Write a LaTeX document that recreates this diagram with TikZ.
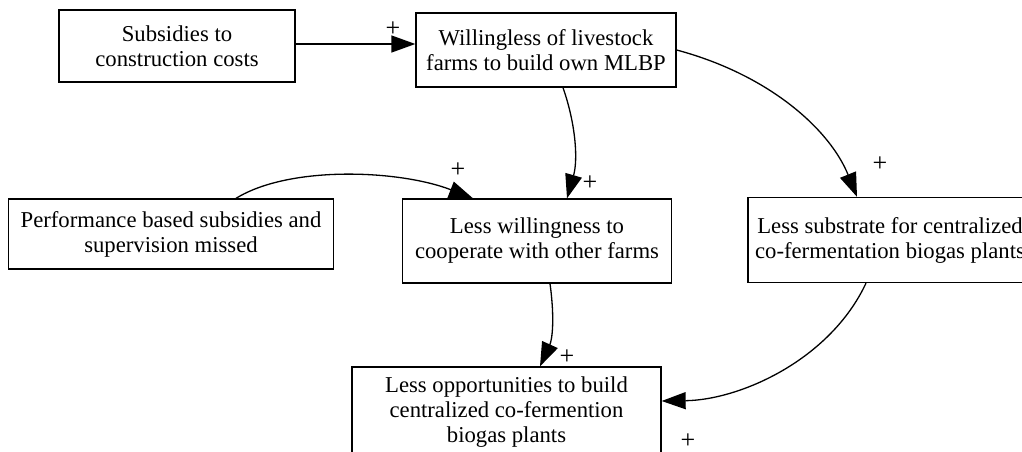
\documentclass[tikz,border=0pt]{standalone}
\usepackage{fontspec}
\setmainfont{Liberation Serif}
\usetikzlibrary{arrows.meta}
\begin{document}
\begin{tikzpicture}[x=1pt,y=-1pt,
  factor/.style={draw, line width=1.3pt, align=center, inner sep=0pt,
    font=\fontsize{22.7}{25}\selectfont},
  link/.style={line width=1.3pt, -{Triangle[length=24pt,width=17pt]}},
  sign/.style={font=\fontsize{26}{26}\selectfont}]
\useasboundingbox (0,0) rectangle (1022,452);
\clip (0,0) rectangle (1022,452);

% causal factors
\node[factor, minimum width=236pt, minimum height=72pt] (sub) at (177,46)
  {Subsidies to\\construction costs};
\node[factor, minimum width=260pt, minimum height=74pt] (will) at (546,50)
  {Willingless of livestock\\farms to build own MLBP};
\node[factor, minimum width=325pt, minimum height=70pt] (perf) at (171,234)
  {Performance based subsidies and\\supervision missed};
\node[factor, minimum width=269pt, minimum height=84pt] (coop) at (537,241)
  {Less willingness to\\cooperate with other farms};
\node[factor, minimum width=284pt, minimum height=85pt] (subst) at (890,240)
  {Less substrate for centralized\\co-fermentation biogas plants};
\node[factor, minimum width=309pt, minimum height=90pt] (opp) at (506.5,412)
  {Less opportunities to build\\centralized co-fermention\\biogas plants};

% causal links
\draw[link] ([yshift=2pt]sub.east) -- ([yshift=2pt]sub.east -| will.west);
\draw[link] ([xshift=17pt]will.south) .. controls (576,125) and (578,160) .. ([xshift=30pt]coop.north);
\draw[link] (will.east) .. controls (770,75) and (830,130) .. ([xshift=-33pt]subst.north);
\draw[link] ([xshift=65pt]perf.north) .. controls (290,165) and (400,170) .. ([xshift=-64pt]coop.north);
\draw[link] ([xshift=13pt]coop.south) .. controls (555,320) and (552,340) .. ([xshift=33.5pt]opp.north);
\draw[link] ([xshift=-24pt]subst.south) .. controls (830,360) and (740,400) .. ([yshift=11pt]opp.east);

% polarity signs
\node[sign] (p1) at (393,29) {+};
\node[sign] (p2) at (590,183) {+};
\node[sign] (p3) at (880,164) {+};
\node[sign] (p4) at (458,170) {+};
\node[sign] (p5) at (567,357) {+};
\node[sign] (p6) at (688,441) {+};
\end{tikzpicture}
\end{document}
